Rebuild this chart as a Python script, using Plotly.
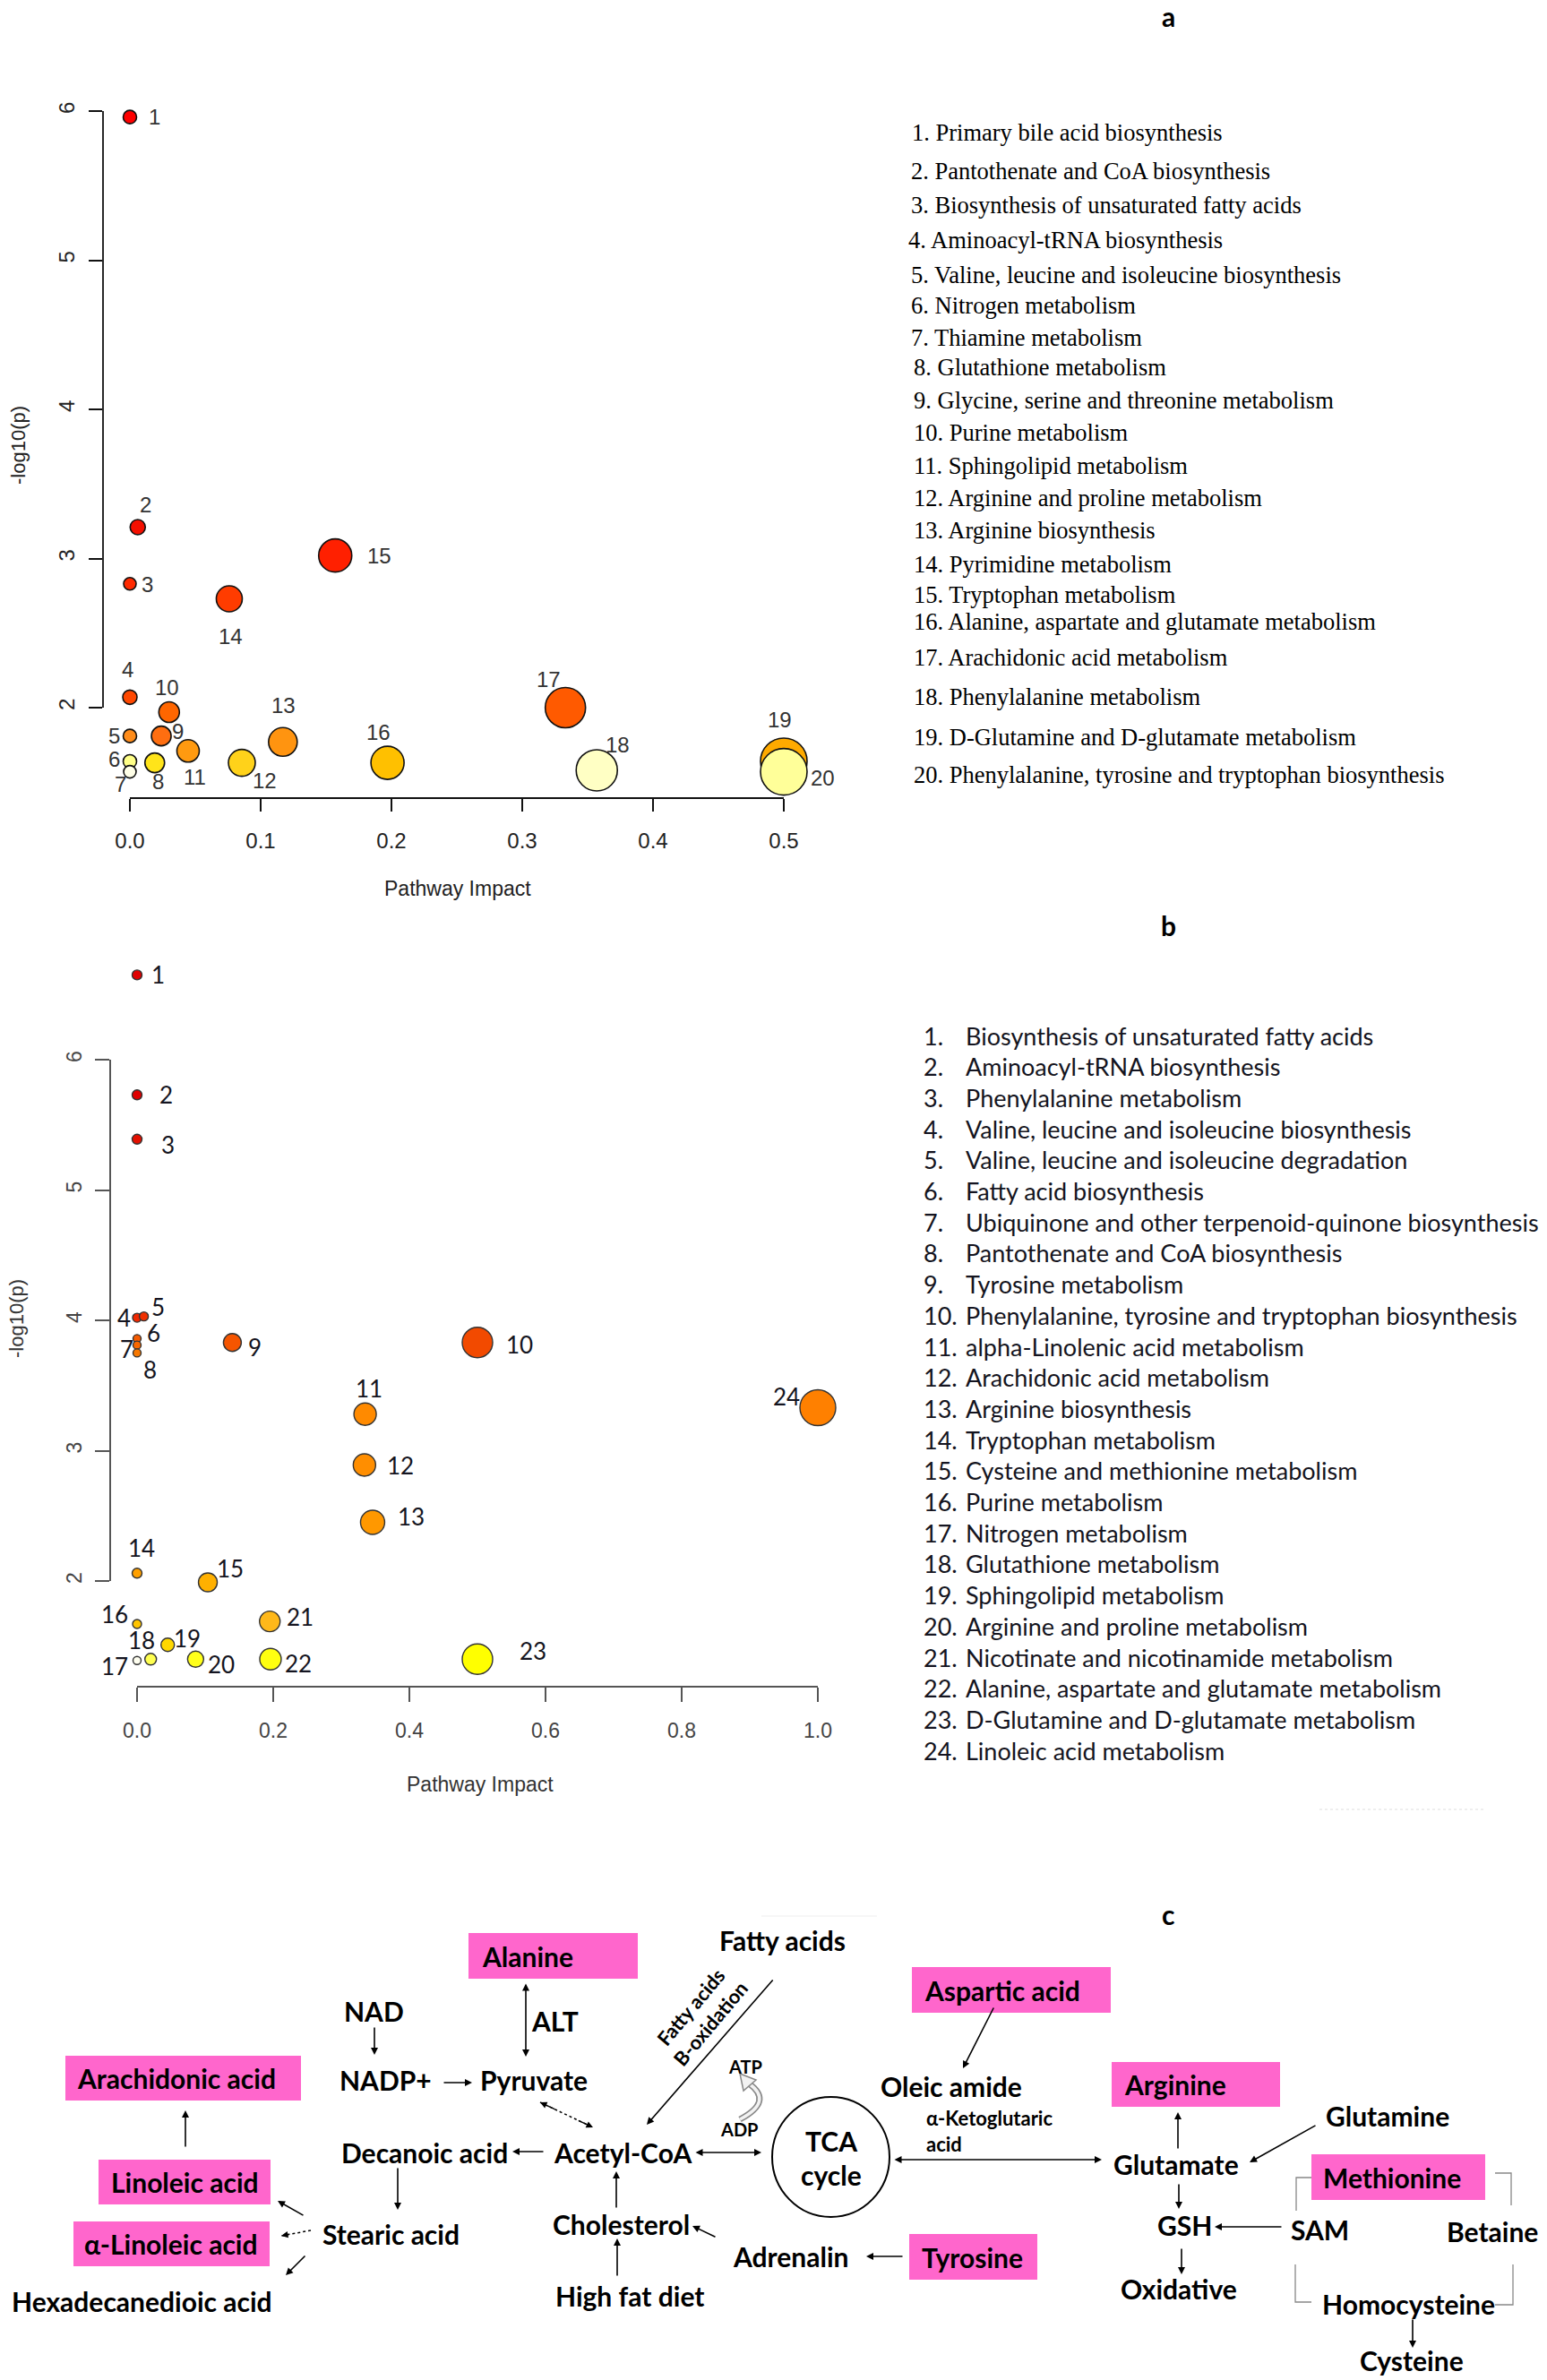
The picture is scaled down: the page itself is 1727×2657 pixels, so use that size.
import plotly.graph_objects as go

W, H = 1727, 2657

# ---------------- Panel a data ----------------
a_ids = [str(i) for i in range(1, 21)]
a_impact = [0.0, 0.006, 0.0, 0.0, 0.0, 0.0, 0.0, 0.019, 0.024, 0.030,
            0.0445, 0.0856, 0.117, 0.076, 0.157, 0.197, 0.333, 0.357, 0.5, 0.5]
a_logp = [5.96, 3.21, 2.83, 2.07, 1.81, 1.64, 1.57, 1.63, 1.81, 1.97,
          1.71, 1.63, 1.77, 2.73, 3.02, 1.63, 2.00, 1.58, 1.64, 1.57]
a_colors = ["#FF0000", "#F41000", "#FF2A00", "#FF4800", "#FF8C1A", "#FFFF88", "#FFFFE8",
            "#FFE41A", "#FF6E10", "#FF6600", "#FF9A10", "#FFD21A", "#FF9410", "#FF3C00",
            "#FF2000", "#FFC000", "#FF5A00", "#FFFFC4", "#FFAA00", "#FFFF99"]
a_pathways = [
    "1. Primary bile acid biosynthesis",
    "2. Pantothenate and CoA biosynthesis",
    "3. Biosynthesis of unsaturated fatty acids",
    "4. Aminoacyl-tRNA biosynthesis",
    "5. Valine, leucine and isoleucine biosynthesis",
    "6. Nitrogen metabolism",
    "7. Thiamine metabolism",
    "8. Glutathione metabolism",
    "9. Glycine, serine and threonine metabolism",
    "10. Purine metabolism",
    "11. Sphingolipid metabolism",
    "12. Arginine and proline metabolism",
    "13. Arginine biosynthesis",
    "14. Pyrimidine metabolism",
    "15. Tryptophan metabolism",
    "16. Alanine, aspartate and glutamate metabolism",
    "17. Arachidonic acid metabolism",
    "18. Phenylalanine metabolism",
    "19. D-Glutamine and D-glutamate metabolism",
    "20. Phenylalanine, tyrosine and tryptophan biosynthesis",
]
a_xticks = [0.0, 0.1, 0.2, 0.3, 0.4, 0.5]
a_yticks = [2, 3, 4, 5, 6]

# ---------------- Panel b data ----------------
b_ids = [str(i) for i in range(1, 25)]
b_impact = [0.0, 0.0, 0.0, 0.0, 0.01, 0.0, 0.0, 0.0, 0.14, 0.5, 0.335, 0.334,
            0.346, 0.0, 0.104, 0.0, 0.0, 0.02, 0.045, 0.086, 0.195, 0.196, 0.5, 1.0]
b_logp = [6.65, 5.73, 5.39, 4.02, 4.03, 3.86, 3.81, 3.75, 3.83, 3.83, 3.28, 2.89,
          2.45, 2.06, 1.99, 1.67, 1.39, 1.40, 1.51, 1.40, 1.69, 1.40, 1.40, 3.33]
b_colors = ["#E00000", "#E00000", "#E41000", "#F02800", "#F03000", "#F55A00", "#F86800",
            "#F87800", "#F55500", "#F24A00", "#FF8A00", "#FF8E00", "#FF9800", "#FFA000",
            "#FFB000", "#FFC400", "#FFFFF0", "#FFFF50", "#FFD800", "#FFFF1A", "#FFB81A",
            "#FFFF10", "#FFFF00", "#FF8000"]
b_pathways = [
    "Biosynthesis of unsaturated fatty acids",
    "Aminoacyl-tRNA biosynthesis",
    "Phenylalanine metabolism",
    "Valine, leucine and isoleucine biosynthesis",
    "Valine, leucine and isoleucine degradation",
    "Fatty acid biosynthesis",
    "Ubiquinone and other terpenoid-quinone biosynthesis",
    "Pantothenate and CoA biosynthesis",
    "Tyrosine metabolism",
    "Phenylalanine, tyrosine and tryptophan biosynthesis",
    "alpha-Linolenic acid metabolism",
    "Arachidonic acid metabolism",
    "Arginine biosynthesis",
    "Tryptophan metabolism",
    "Cysteine and methionine metabolism",
    "Purine metabolism",
    "Nitrogen metabolism",
    "Glutathione metabolism",
    "Sphingolipid metabolism",
    "Arginine and proline metabolism",
    "Nicotinate and nicotinamide metabolism",
    "Alanine, aspartate and glutamate metabolism",
    "D-Glutamine and D-glutamate metabolism",
    "Linoleic acid metabolism",
]
b_xticks = [0.0, 0.2, 0.4, 0.6, 0.8, 1.0]
b_yticks = [2, 3, 4, 5, 6]

# ---------------- Panel c (diagram) ----------------
c_highlighted = ["Alanine", "Arachidonic acid", "Linoleic acid", "α-Linoleic acid",
                 "Aspartic acid", "Arginine", "Methionine", "Tyrosine"]
c_plain = ["Fatty acids", "NAD", "NADP+", "Pyruvate", "ALT", "Decanoic acid", "Acetyl-CoA",
           "Stearic acid", "Hexadecanedioic acid", "Cholesterol", "High fat diet",
           "Adrenalin", "Oleic amide", "Glutamate", "Glutamine", "GSH", "SAM", "Betaine",
           "Oxidative", "Homocysteine", "Cysteine"]

# ================= styling / layout (pixel geometry) =================
a_marker_px = [15, 17, 14, 16, 15, 15, 14, 22, 22, 23, 25, 30, 32, 29, 37, 37, 45, 46, 52, 52]
a_label_off = [(27, 0), (9, -25), (19, 1), (-3, -31), (-18, 0), (-18, -2), (-11, 14), (4, 21),
               (18, -5), (-2, -27), (8, 29), (26, 20), (1, -41), (2, 42), (49, 0), (-10, -34),
               (-19, -32), (23, -28), (-5, -46), (43, 7)]
b_marker_px = [11, 11, 11, 10, 10, 9, 9, 9, 20, 34, 25, 25, 27, 11, 21, 10, 9, 13, 15, 18,
               23, 24, 34, 40]
b_label_off = [(23, 0), (32, 0), (34, 6), (-15, 0), (16, -11), (18, -6), (-12, 4), (14, 19),
               (25, 5), (47, 2), (4, -29), (40, 0), (43, -7), (5, -28), (25, -15), (-25, -11),
               (-25, 6), (-10, -21), (22, -7), (29, 6), (34, -5), (31, 5), (62, -9), (-35, -12)]

# axis calibration (pixels)
A = dict(x0=145, ppx=1460, y6=124, ppy=166.5, left=115, right=905, top=100, bottom=891)
B = dict(x0=153, ppx=760, y6=1183, ppy=145.5, left=123, right=945, top=1060, bottom=1883)


def xr(c):
    return [(c["left"] - c["x0"]) / c["ppx"], (c["right"] - c["x0"]) / c["ppx"]]


def yr(c):
    return [6 - (c["bottom"] - c["y6"]) / c["ppy"], 6 + (c["y6"] - c["top"]) / c["ppy"]]


def dom_x(c):
    return [c["left"] / W, c["right"] / W]


def dom_y(c):
    return [1 - c["bottom"] / H, 1 - c["top"] / H]


fig = go.Figure()

fig.add_trace(go.Scatter(
    x=a_impact, y=a_logp, mode="markers", xaxis="x", yaxis="y", cliponaxis=False,
    marker=dict(size=a_marker_px, color=a_colors, opacity=1, line=dict(color="#111111", width=1.6)),
    showlegend=False, hoverinfo="skip"))
fig.add_trace(go.Scatter(
    x=b_impact, y=b_logp, mode="markers", xaxis="x2", yaxis="y2", cliponaxis=False,
    marker=dict(size=b_marker_px, color=b_colors, opacity=1, line=dict(color="#333333", width=1.4)),
    showlegend=False, hoverinfo="skip"))
# overlay pixel canvas for the diagram and free text
fig.add_trace(go.Scatter(x=[None], y=[None], xaxis="x3", yaxis="y3", showlegend=False,
                         hoverinfo="skip"))

ann = []
shapes = []

FA = "Liberation Sans"
FB = "Lato"

# point labels
for i, t in enumerate(a_ids):
    dx, dy = a_label_off[i]
    ann.append(dict(x=a_impact[i], y=a_logp[i], xref="x", yref="y", text=t, showarrow=False,
                    xshift=dx, yshift=-dy, font=dict(family=FA, size=24, color="#333333")))
for i, t in enumerate(b_ids):
    dx, dy = b_label_off[i]
    ann.append(dict(x=b_impact[i], y=b_logp[i], xref="x2", yref="y2", text=t, showarrow=False,
                    xshift=dx, yshift=-dy, font=dict(family=FB, size=26, color="#141420")))

# R-style axis lines (tick to tick)
shapes.append(dict(type="line", xref="x", yref="y domain", x0=a_xticks[0], x1=a_xticks[-1],
                   y0=0, y1=0, line=dict(color="#111111", width=1.8)))
shapes.append(dict(type="line", xref="x domain", yref="y", x0=0, x1=0, y0=a_yticks[0],
                   y1=a_yticks[-1], line=dict(color="#111111", width=1.8)))
shapes.append(dict(type="line", xref="x2", yref="y2 domain", x0=b_xticks[0], x1=b_xticks[-1],
                   y0=0, y1=0, line=dict(color="#555555", width=2)))
shapes.append(dict(type="line", xref="x2 domain", yref="y2", x0=0, x1=0, y0=b_yticks[0],
                   y1=b_yticks[-1], line=dict(color="#555555", width=2)))


def ptext(x, y, s, size, family=FB, color="black", anchor="center", bold=False, angle=0):
    ann.append(dict(x=x, y=y, xref="x3", yref="y3", text=("<b>%s</b>" % s) if bold else s,
                    showarrow=False, xanchor=anchor, yanchor="middle", textangle=angle,
                    font=dict(family=family, size=size, color=color)))


# axis titles
ptext(20, 497, "-log10(p)", 22, FA, "#222222", angle=-90)
ptext(511, 992, "Pathway Impact", 23, FA, "#222222")
ptext(18, 1472, "-log10(p)", 22, FA, "#333333", angle=-90)
ptext(536, 1992, "Pathway Impact", 23, FA, "#333333")

# panel letters
ptext(1304, 18, "a", 30, FB, bold=True)
ptext(1304, 1033, "b", 30, FB, bold=True)
ptext(1304, 2137, "c", 30, FB, bold=True)

# legends
a_leg_y = [148, 191, 229, 268, 307, 341, 377, 410, 447, 483, 520, 556, 592, 630, 664, 694,
           734, 778, 823, 865]
a_leg_x = [1016, 1015, 1015, 1012, 1015, 1015, 1015, 1018, 1018, 1018, 1018, 1018, 1018,
           1018, 1018, 1018, 1018, 1018, 1018, 1018]
for i, s in enumerate(a_pathways):
    ptext(a_leg_x[i], a_leg_y[i], s, 26.5, "Liberation Serif", "black", anchor="left")

for i, s in enumerate(b_pathways):
    y = 1156 + i * 34.7
    ptext(1029, y, "%d." % (i + 1), 27, FB, "#141420", anchor="left")
    ptext(1076, y, s, 27, FB, "#141420", anchor="left")

# faint separator remnants seen in the source figure
shapes.append(dict(type="line", xref="x3", yref="y3", x0=1473, x1=1659, y0=2020, y1=2020,
                   line=dict(color="#DDDDDD", width=1.2, dash="dot")))
shapes.append(dict(type="line", xref="x3", yref="y3", x0=850, x1=979, y0=2139, y1=2139,
                   line=dict(color="#EEEEEE", width=1)))

# ---------- diagram ----------
PINK = "#FF66CC"
CF = 30
boxes = {  # name: (x0, x1, y0, y1, text_left)
    "Alanine": (523, 712, 2158, 2209, 536),
    "Arachidonic acid": (73, 336, 2295, 2345, 84),
    "Linoleic acid": (110, 302, 2411, 2461, 122),
    "α-Linoleic acid": (82, 301, 2480, 2530, 92),
    "Aspartic acid": (1018, 1240, 2196, 2247, 1030),
    "Arginine": (1241, 1429, 2302, 2352, 1253),
    "Methionine": (1464, 1658, 2405, 2456, 1475),
    "Tyrosine": (1015, 1158, 2494, 2545, 1027),
}
for name in c_highlighted:
    x0, x1, y0, y1, tl = boxes[name]
    shapes.append(dict(type="rect", xref="x3", yref="y3", x0=x0, x1=x1, y0=y0, y1=y1,
                       fillcolor=PINK, line=dict(width=0), layer="above"))
    ptext(tl, (y0 + y1) / 2, name, CF, FB, bold=True, anchor="left")

plain_pos = {  # name: (x_center, y_center)
    "Fatty acids": (873, 2166),
    "NAD": (417, 2245),
    "NADP+": (430, 2322),
    "Pyruvate": (596, 2322),
    "ALT": (619, 2256),
    "Decanoic acid": (474, 2403),
    "Acetyl-CoA": (695, 2403),
    "Stearic acid": (436, 2494),
    "Hexadecanedioic acid": (158, 2569),
    "Cholesterol": (693, 2483),
    "High fat diet": (703, 2563),
    "Adrenalin": (882, 2519),
    "Oleic amide": (1062, 2329),
    "Glutamate": (1313, 2416),
    "Glutamine": (1549, 2362),
    "GSH": (1322, 2484),
    "SAM": (1473, 2489),
    "Betaine": (1666, 2491),
    "Oxidative": (1316, 2555),
    "Homocysteine": (1572, 2572),
    "Cysteine": (1576, 2635),
}
for name in c_plain:
    x, y = plain_pos[name]
    ptext(x, y, name, CF, FB, bold=True)

ptext(1032, 2364, "α-Ketoglutaric", 22, FB, bold=True, anchor="left")
ptext(1032, 2393, "acid", 22, FB, bold=True, anchor="left")
ptext(782, 2250, "Fatty acids<br>B-oxidation", 22, FB, bold=True, angle=-50)
ptext(832, 2307, "ATP", 20, FB, bold=True)
ptext(825, 2377, "ADP", 20, FB, bold=True)

# TCA cycle
shapes.append(dict(type="circle", xref="x3", yref="y3", x0=862, x1=993, y0=2341, y1=2475,
                   line=dict(color="black", width=2)))
ptext(928, 2390, "TCA", CF, FB, bold=True)
ptext(928, 2428, "cycle", CF, FB, bold=True)

# arrows: (tail, head, double)
arrows = [
    ((418, 2262), (418, 2294), False),
    ((494, 2325), (527, 2325), False),
    ((587, 2213), (587, 2296), True),
    ((608, 2402), (572, 2402), False),
    ((444, 2419), (444, 2467), False),
    ((207, 2398), (207, 2356), False),
    ((340, 2474), (310, 2457), False),
    ((342, 2517), (319, 2540), False),
    ((864, 2209), (722, 2372), False),
    ((775, 2403), (850, 2403), True),
    ((688, 2466), (688, 2424), False),
    ((689, 2542), (689, 2499), False),
    ((800, 2498), (773, 2485), False),
    ((1009, 2519), (967, 2519), False),
    ((1110, 2240), (1075, 2309), False),
    ((997, 2411), (1230, 2411), True),
    ((1315, 2400), (1315, 2358), False),
    ((1470, 2372), (1395, 2414), False),
    ((1316, 2437), (1316, 2466), False),
    ((1432, 2486), (1356, 2486), False),
    ((1319, 2509), (1319, 2539), False),
    ((1577, 2588), (1577, 2621), False),
]
for (tx, ty), (hx, hy), dbl in arrows:
    ann.append(dict(x=hx, y=hy, xref="x3", yref="y3", ax=tx, ay=ty, axref="x3", ayref="y3",
                    text="", showarrow=True, arrowhead=2, arrowsize=1, arrowwidth=1.6,
                    arrowcolor="black", arrowside="end+start" if dbl else "end",
                    startarrowhead=2, startarrowsize=1, standoff=0, startstandoff=0))

# dashed / dotted arrows
for (tx, ty), (hx, hy), dbl in [((347, 2490), (314, 2496), False),
                                ((603, 2347), (662, 2375), True)]:
    shapes.append(dict(type="line", xref="x3", yref="y3", x0=tx, y0=ty, x1=hx, y1=hy,
                       line=dict(color="black", width=1.5, dash="dot")))
    ann.append(dict(x=hx, y=hy, xref="x3", yref="y3", ax=hx - (hx - tx) * 0.3,
                    ay=hy - (hy - ty) * 0.3, axref="x3", ayref="y3", text="", showarrow=True,
                    arrowhead=2, arrowsize=1, arrowwidth=1.5, arrowcolor="black", standoff=0))
    if dbl:
        ann.append(dict(x=tx, y=ty, xref="x3", yref="y3", ax=tx + (hx - tx) * 0.3,
                        ay=ty + (hy - ty) * 0.3, axref="x3", ayref="y3", text="",
                        showarrow=True, arrowhead=2, arrowsize=1, arrowwidth=1.5,
                        arrowcolor="black", standoff=0))

# curved hollow ATP/ADP arrow
curve = "M 826 2366 Q 864 2346 836 2326"
shapes.append(dict(type="path", xref="x3", yref="y3", path=curve,
                   line=dict(color="#888888", width=7)))
shapes.append(dict(type="path", xref="x3", yref="y3", path=curve,
                   line=dict(color="#F2F2F2", width=3.5)))
shapes.append(dict(type="path", xref="x3", yref="y3",
                   path="M 826 2315 L 844 2322 L 830 2334 Z",
                   fillcolor="#F2F2F2", line=dict(color="#888888", width=1.5)))

# methionine cycle brackets
for pts in [[(1464, 2431), (1447, 2431), (1447, 2468)],
            [(1669, 2426), (1687, 2426), (1687, 2462)],
            [(1446, 2528), (1446, 2570), (1464, 2570)],
            [(1689, 2528), (1689, 2573), (1669, 2573)]]:
    p = "M %d %d L %d %d L %d %d" % (pts[0] + pts[1] + pts[2])
    shapes.append(dict(type="path", xref="x3", yref="y3", path=p,
                       line=dict(color="#888888", width=1.3)))

axis_common = dict(showgrid=False, zeroline=False, showline=False, ticks="outside")

fig.update_layout(
    width=W, height=H, margin=dict(l=0, r=0, t=0, b=0),
    paper_bgcolor="white", plot_bgcolor="rgba(0,0,0,0)",
    showlegend=False,
    xaxis=dict(domain=dom_x(A), range=xr(A), anchor="y", tickvals=a_xticks,
               ticktext=["%.1f" % v for v in a_xticks], ticklen=14, tickwidth=1.8,
               tickcolor="#111111", tickfont=dict(family=FA, size=24, color="#222222"),
               ticklabelstandoff=12, **axis_common),
    yaxis=dict(domain=dom_y(A), range=yr(A), anchor="x", tickvals=a_yticks,
               ticktext=[str(v) for v in a_yticks], ticklen=15, tickwidth=1.8,
               tickcolor="#111111", tickangle=-90,
               tickfont=dict(family=FA, size=24, color="#222222"), ticklabelstandoff=6,
               **axis_common),
    xaxis2=dict(domain=dom_x(B), range=xr(B), anchor="y2", tickvals=b_xticks,
                ticktext=["%.1f" % v for v in b_xticks], ticklen=16, tickwidth=2,
                tickcolor="#555555", tickfont=dict(family=FA, size=23, color="#444444"),
                ticklabelstandoff=12, **axis_common),
    yaxis2=dict(domain=dom_y(B), range=yr(B), anchor="x2", tickvals=b_yticks,
                ticktext=[str(v) for v in b_yticks], ticklen=16, tickwidth=2,
                tickcolor="#555555", tickangle=-90,
                tickfont=dict(family=FA, size=23, color="#444444"), ticklabelstandoff=6,
                **axis_common),
    xaxis3=dict(domain=[0, 1], range=[0, W], anchor="y3", visible=False, fixedrange=True),
    yaxis3=dict(domain=[0, 1], range=[H, 0], anchor="x3", visible=False, fixedrange=True),
    annotations=ann,
    shapes=shapes,
)

fig.write_html("out.html", config={"displayModeBar": False},
               post_script="document.body.style.margin='0px';"
                           "document.body.style.overflow='hidden';")
